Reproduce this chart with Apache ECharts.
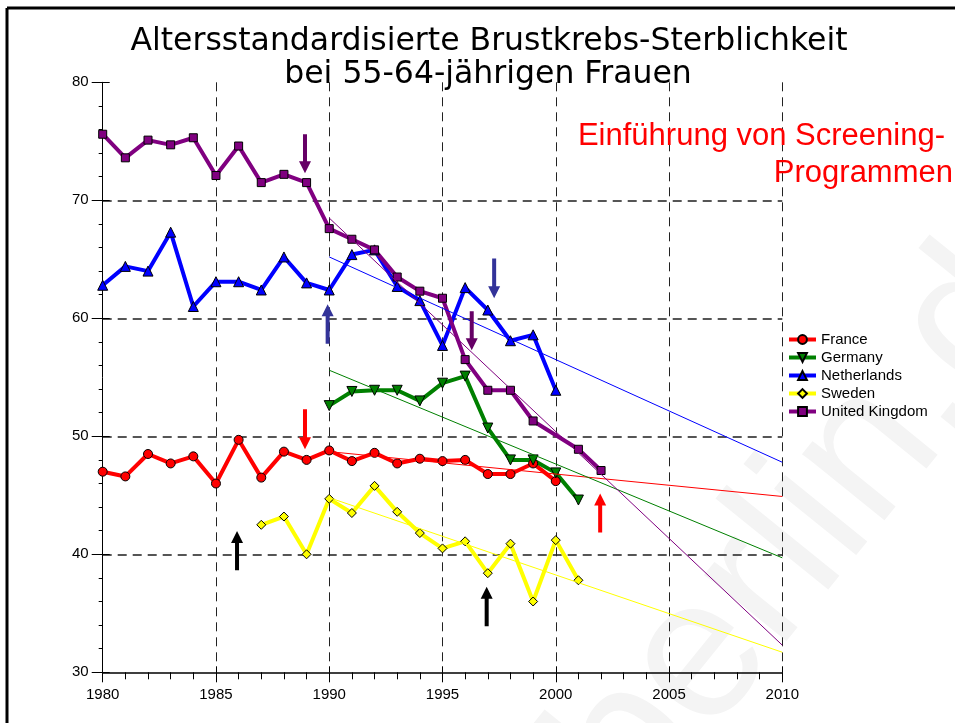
<!DOCTYPE html>
<html>
<head>
<meta charset="utf-8">
<script src="https://cdn.jsdelivr.net/npm/echarts@6/dist/echarts.min.js"></script>
<style>html,body{margin:0;padding:0;background:#fff;}#c{width:955px;height:723px;}</style>
</head>
<body>
<div id="c"></div>
<script>
// ---- data ----
const seriesNames = ['France', 'Germany', 'Netherlands', 'Sweden', 'United Kingdom'];

const franceYears = [1980,1981,1982,1983,1984,1985,1986,1987,1988,1989,1990,1991,1992,1993,1994,1995,1996,1997,1998,1999,2000];
const franceVals  = [47.0,46.6,48.5,47.7,48.3,46.0,49.7,46.5,48.7,48.0,48.8,47.9,48.6,47.7,48.1,47.9,48.0,46.8,46.8,47.7,46.2];

const germanyYears = [1990,1991,1992,1993,1994,1995,1996,1997,1998,1999,2000,2001];
const germanyVals  = [52.6,53.8,53.9,53.9,53.0,54.5,55.1,50.7,48.0,48.0,46.9,44.6];

const netherlandsYears = [1980,1981,1982,1983,1984,1985,1986,1987,1988,1989,1990,1991,1992,1993,1994,1995,1996,1997,1998,1999,2000];
const netherlandsVals  = [62.8,64.4,64.0,67.3,61.0,63.1,63.1,62.4,65.2,63.0,62.4,65.4,65.8,62.7,61.5,57.7,62.6,60.7,58.1,58.6,53.9];

const swedenYears = [1987,1988,1989,1990,1991,1992,1993,1994,1995,1996,1997,1998,1999,2000,2001];
const swedenVals  = [42.5,43.2,40.0,44.7,43.5,45.8,43.6,41.8,40.5,41.1,38.4,40.9,36.0,41.2,37.8];

const ukYears = [1980,1981,1982,1983,1984,1985,1986,1987,1988,1989,1990,1991,1992,1993,1994,1995,1996,1997,1998,1999,2001,2002];
const ukVals  = [75.6,73.6,75.1,74.7,75.3,72.1,74.6,71.5,72.2,71.5,67.6,66.7,65.8,63.5,62.3,61.7,56.5,53.9,53.9,51.3,48.9,47.1];

// linear trend lines (1990 -> 2010)
const trendYears = [1990, 2010];
const franceTrend = [48.7, 44.9];
const germanyTrend = [55.6, 39.7];
const netherlandsTrend = [65.2, 47.8];
const swedenTrend = [44.8, 31.7];
const ukTrend = [68.5, 32.3];

// screening-introduction arrows: year, from value, to value (arrow head at "to")
const arrowYears = [1988.93, 1989.93, 1997.28, 1996.29, 1988.93, 2001.96, 1985.93, 1996.95];
const arrowFrom  = [75.6, 57.85, 65.06, 60.6, 52.3, 41.85, 38.65, 33.9];
const arrowTo    = [72.3, 61.2, 61.7, 57.3, 48.9, 45.15, 41.97, 37.26];
const arrowColors = ['#660066','#333399','#333399','#660066','#ff0000','#ff0000','#000000','#000000'];

const xTicks = { min: 1980, max: 2010, interval: 5 };
const yTicks = { min: 30, max: 80, interval: 10 };

const titleLines = ['Altersstandardisierte Brustkrebs-Sterblichkeit', 'bei 55-64-jährigen Frauen'];
const noteLines = ['Einführung von Screening-', 'Programmen'];
const watermark = 'berlin.de';

// ---- chart ----
const pairs = (xs, ys) => xs.map((x, i) => [x, ys[i]]);
const colors = { France: '#ff0000', Germany: '#008000', Netherlands: '#0000ff', Sweden: '#ffff00', 'United Kingdom': '#800080' };
const FONT = "'Liberation Sans', Arial, sans-serif";

function mainSeries(name, xs, ys, symbol, size, rotate) {
  return {
    name, type: 'line', data: pairs(xs, ys), symbol, symbolSize: size, symbolRotate: rotate || 0,
    showAllSymbol: true, z: 3,
    lineStyle: { color: colors[name], width: 4 },
    itemStyle: { color: colors[name], borderColor: '#000', borderWidth: 1 },
    emphasis: { disabled: true }, animation: false
  };
}
function trendSeries(name, ys) {
  return {
    name: name + ' trend', type: 'line', data: pairs(trendYears, ys), symbol: 'none', z: 4,
    lineStyle: { color: colors[name], width: 1 }, emphasis: { disabled: true }, animation: false
  };
}

const chart = echarts.init(document.getElementById('c'), null, { renderer: 'canvas' });
const grid = { left: 102.7, right: 172.7, top: 82.3, bottom: 50.7 };

const option = {
  backgroundColor: '#ffffff',
  animation: false,
  grid,
  legend: {
    data: seriesNames, orient: 'vertical', left: 787, top: 332,
    itemWidth: 27, itemHeight: 11, itemGap: 3,
    lineStyle: { width: 4 },
    textStyle: { fontFamily: FONT, fontSize: 15, color: '#000' },
    padding: 0
  },
  xAxis: [{
    type: 'value', min: xTicks.min, max: xTicks.max, interval: xTicks.interval,
    axisLine: { lineStyle: { color: '#000', width: 1.5 } },
    axisTick: { length: 10, lineStyle: { color: '#000', width: 1 } },
    minorTick: { show: true, splitNumber: 5, length: 7, lineStyle: { color: '#000', width: 1 } },
    axisLabel: { fontFamily: FONT, fontSize: 15, color: '#000', margin: 15, formatter: v => String(v) },
    splitLine: { show: true, showMinLine: false, lineStyle: { color: '#222', width: 1, type: [9, 6] } }
  }, {
    type: 'value', min: xTicks.min, max: xTicks.max, interval: xTicks.interval, position: 'bottom',
    axisLine: { show: false }, axisLabel: { show: false }, splitLine: { show: false },
    axisTick: { inside: true, length: 6, lineStyle: { color: '#000', width: 1 } }
  }],
  yAxis: [{
    type: 'value', min: yTicks.min, max: yTicks.max, interval: yTicks.interval,
    axisLine: { show: true, lineStyle: { color: '#000', width: 1 } },
    axisTick: { show: true, length: 11, lineStyle: { color: '#000', width: 1 } },
    minorTick: { show: true, splitNumber: 5, length: 4, lineStyle: { color: '#000', width: 1 } },
    axisLabel: { fontFamily: FONT, fontSize: 15, color: '#000', margin: 14 },
    splitLine: { show: true, showMaxLine: false, showMinLine: false, lineStyle: { color: '#555', width: 2, type: [9, 6] } }
  }, {
    type: 'value', min: yTicks.min, max: yTicks.max, interval: yTicks.interval, position: 'left',
    axisLine: { show: false }, axisLabel: { show: false }, splitLine: { show: false },
    axisTick: { show: true, inside: true, length: 7, lineStyle: { color: '#000', width: 1 } }
  }],
  graphic: [
    { type: 'text', z: 0, x: 595, y: 790, rotation: 51 * Math.PI / 180,
      style: { text: watermark, font: '200px "Liberation Sans", Arial, sans-serif', fill: '#f4f4f4', align: 'left', verticalAlign: 'middle' } },
    { type: 'line', z: 10, shape: { x1: 7, y1: 8, x2: 955, y2: 8 }, style: { stroke: '#000', lineWidth: 3 } },
    { type: 'line', z: 10, shape: { x1: 7, y1: 8, x2: 7, y2: 723 }, style: { stroke: '#000', lineWidth: 3 } },
    { type: 'text', z: 10, x: 489, y: 42, style: { text: titleLines[0], font: '31.5px "DejaVu Sans", sans-serif', fill: '#000', align: 'center', verticalAlign: 'middle' } },
    { type: 'text', z: 10, x: 488, y: 75, style: { text: titleLines[1], font: '31.5px "DejaVu Sans", sans-serif', fill: '#000', align: 'center', verticalAlign: 'middle' } },
    { type: 'text', z: 10, x: 945, y: 136, style: { text: noteLines[0], font: '31px "Liberation Sans", Arial, sans-serif', fill: '#ff0000', align: 'right', verticalAlign: 'middle' } },
    { type: 'text', z: 10, x: 953, y: 173, style: { text: noteLines[1], font: '31px "Liberation Sans", Arial, sans-serif', fill: '#ff0000', align: 'right', verticalAlign: 'middle' } }
  ],
  series: [
    mainSeries('France', franceYears, franceVals, 'circle', 9),
    mainSeries('Germany', germanyYears, germanyVals, 'triangle', 10, 180),
    mainSeries('Netherlands', netherlandsYears, netherlandsVals, 'triangle', 10),
    mainSeries('Sweden', swedenYears, swedenVals, 'diamond', 9),
    mainSeries('United Kingdom', ukYears, ukVals, 'rect', 8),
    trendSeries('France', franceTrend),
    trendSeries('Germany', germanyTrend),
    trendSeries('Netherlands', netherlandsTrend),
    trendSeries('Sweden', swedenTrend),
    trendSeries('United Kingdom', ukTrend),
    {
      name: 'arrows', type: 'custom', z: 5, animation: false,
      data: arrowYears.map((x, i) => [x, arrowFrom[i], arrowTo[i]]),
      encode: { x: 0, y: [1, 2] },
      renderItem: function (params, api) {
        const x = api.value(0), p0 = api.coord([x, api.value(1)]), p1 = api.coord([x, api.value(2)]);
        const dir = Math.sign(p1[1] - p0[1]);
        const hy = p1[1] - dir * 12, cx = p0[0];
        return {
          type: 'polygon',
          shape: { points: [[cx - 2, p0[1]], [cx + 2, p0[1]], [cx + 2, hy], [cx + 6, hy], [cx, p1[1]], [cx - 6, hy], [cx - 2, hy]] },
          style: { fill: arrowColors[params.dataIndex] }
        };
      }
    }
  ]
};
chart.setOption(option);
</script>
</body>
</html>
